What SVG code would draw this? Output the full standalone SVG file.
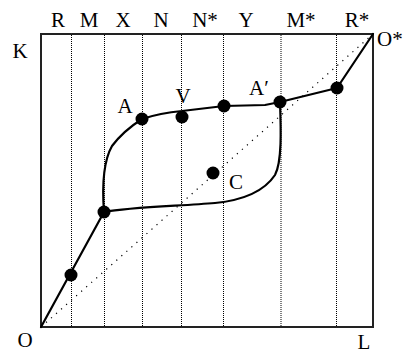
<svg xmlns="http://www.w3.org/2000/svg" width="406" height="354" viewBox="0 0 406 354">
<style>
.lbl{font-family:"Liberation Serif","Times New Roman",serif;font-size:21px;fill:#000}
.grid{stroke:#000;stroke-width:1;stroke-dasharray:1 1;fill:none}
.diag{stroke:#000;stroke-width:1.2;stroke-dasharray:1.2 5.5;fill:none}
.curve{stroke:#000;stroke-width:2.2;fill:none;stroke-linejoin:round;stroke-linecap:round}
.dot{fill:#000}
</style>
<rect width="406" height="354" fill="#fff"/>
<g id="box">
<rect x="41" y="34" width="332" height="293" fill="none" stroke="#222" stroke-width="2"/>
</g>
<g id="gridlines">
<line class="grid" x1="71.5" y1="35" x2="71.5" y2="326"/>
<line class="grid" x1="104.5" y1="35" x2="104.5" y2="326"/>
<line class="grid" x1="142.5" y1="35" x2="142.5" y2="326"/>
<line class="grid" x1="181.5" y1="35" x2="181.5" y2="326"/>
<line class="grid" x1="223.5" y1="35" x2="223.5" y2="326"/>
<line class="grid" x1="281" y1="35" x2="281" y2="326"/>
<line class="grid" x1="336.5" y1="35" x2="336.5" y2="326"/>
</g>
<g id="connectors">
<line class="diag" x1="41" y1="327" x2="373" y2="34"/>
<path class="curve" d="M41,327 L104,212"/>
<path class="curve" d="M104,212 C102,185 104,160 112,146 C118,138 128,128 142,119"/>
<path class="curve" d="M104,212 C130,207 180,206 215,203 C245,200 265,190 275,175 C282,162 281,130 280,102"/>
<path class="curve" d="M142,119 Q160,113 182,111 L224,106 L265,105 L280,102 L337,88 L373,34"/>
</g>
<g id="points">
<circle class="dot" cx="71" cy="275" r="6.5"/>
<circle class="dot" cx="104" cy="212" r="6.5"/>
<circle class="dot" cx="142" cy="119" r="6.5"/>
<circle class="dot" cx="182" cy="117" r="6.5"/>
<circle class="dot" cx="224" cy="106" r="6.5"/>
<circle class="dot" cx="280" cy="102" r="6.5"/>
<circle class="dot" cx="337" cy="88" r="6.5"/>
<circle class="dot" cx="213" cy="173" r="6.5"/>
</g>
<g id="labels">
<text class="lbl" x="58" y="27" text-anchor="middle">R</text>
<text class="lbl" x="89" y="27" text-anchor="middle">M</text>
<text class="lbl" x="123" y="27" text-anchor="middle">X</text>
<text class="lbl" x="161" y="27" text-anchor="middle">N</text>
<text class="lbl" x="205" y="27" text-anchor="middle">N*</text>
<text class="lbl" x="246" y="27" text-anchor="middle">Y</text>
<text class="lbl" x="301" y="27" text-anchor="middle">M*</text>
<text class="lbl" x="357" y="27" text-anchor="middle">R*</text>
<text class="lbl" x="20" y="58" text-anchor="middle">K</text>
<text class="lbl" x="377" y="46">O*</text>
<text class="lbl" x="25" y="347" text-anchor="middle">O</text>
<text class="lbl" x="364" y="349" text-anchor="middle">L</text>
<text class="lbl" x="125" y="113" text-anchor="middle">A</text>
<text class="lbl" x="183" y="103" text-anchor="middle">V</text>
<text class="lbl" x="259" y="95" text-anchor="middle">A′</text>
<text class="lbl" x="236" y="189" text-anchor="middle">C</text>
</g>
</svg>
